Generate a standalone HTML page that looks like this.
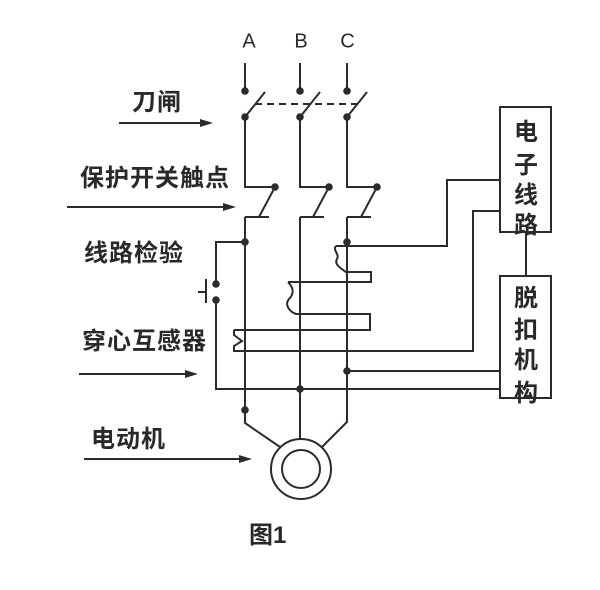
<!DOCTYPE html>
<html><head><meta charset="utf-8"><style>
html,body{margin:0;padding:0;background:#fff;}
svg{display:block;}
.t{font-family:"Liberation Sans","Noto Sans CJK SC",sans-serif;font-weight:bold;font-size:24px;fill:#2b2828;letter-spacing:1px;}
.l{font-family:"Liberation Sans",sans-serif;font-size:20px;fill:#2b2828;}
</style></head><body>
<svg width="600" height="590" viewBox="0 0 600 590" xmlns="http://www.w3.org/2000/svg">
<g fill="none" stroke="#2d2a2a" stroke-width="2">
<!-- A phase -->
<path d="M245,63 V91"/>
<path d="M245,117 L265,92"/>
<path d="M245,117 V187 H275"/>
<path d="M275,187 L259,217"/>
<path d="M245,217 H269"/>
<path d="M245,217 V423 L280,447"/>
<!-- B phase -->
<path d="M300,63 V91"/>
<path d="M300,117 L320,92"/>
<path d="M300,117 V187 H329"/>
<path d="M329,187 L313,217"/>
<path d="M300,217 H324"/>
<path d="M300,217 V439"/>
<!-- C phase -->
<path d="M347,63 V91"/>
<path d="M347,117 L367,92"/>
<path d="M347,117 V187 H377"/>
<path d="M377,187 L361,217"/>
<path d="M347,217 H371"/>
<path d="M347,217 V422 L322,447"/>
<!-- dashed linkage -->
<path d="M255,104 H362" stroke-dasharray="7,5"/>
<!-- motor -->
<circle cx="301" cy="469" r="30"/>
<circle cx="301" cy="469" r="19"/>
<!-- boxes -->
<rect x="500" y="107" width="51" height="125"/>
<rect x="500" y="276" width="51" height="122"/>
<path d="M526,232 V276"/>
<!-- electronic circuit feed lines -->
<path d="M500,180 H447 V246 H336"/>
<path d="M336,246 C332,250 340,254 337,259 C334,264 340,268 346,272 H371 V282 H288"/>
<path d="M288,282 C294,288 294,294 289,299 C284,305 290,312 296,314 H370 V330 H234"/>
<path d="M234,330 V335 L242,341 L234,346 V351 H473 V211 H500"/>
<path d="M347,371 H500"/>
<path d="M500,389 H216 V300"/>
<path d="M216,284 V242 H245"/>
<!-- test button -->
<path d="M206,279 V303 M198,292 H206"/>
<!-- arrows -->
<path d="M119,123 H204"/>
<path d="M67,207 H227"/>
<path d="M79,374 H189"/>
<path d="M84,459 H243"/>
</g>
<g fill="#2d2a2a">
<circle cx="245" cy="91" r="3.8"/><circle cx="245" cy="117" r="3.8"/>
<circle cx="300" cy="91" r="3.8"/><circle cx="300" cy="117" r="3.8"/>
<circle cx="347" cy="91" r="3.8"/><circle cx="347" cy="117" r="3.8"/>
<circle cx="275" cy="187" r="3.8"/><circle cx="329" cy="187" r="3.8"/><circle cx="377" cy="187" r="3.8"/>
<circle cx="245" cy="242" r="3.8"/><circle cx="347" cy="242" r="3.8"/>
<circle cx="216" cy="284" r="3.8"/><circle cx="216" cy="300" r="3.8"/>
<circle cx="347" cy="371" r="3.8"/><circle cx="300" cy="389" r="3.8"/>
<circle cx="245" cy="410" r="3.8"/>
<path d="M213,123 L200,119 L200,127 Z"/>
<path d="M236,207 L223,203 L223,211 Z"/>
<path d="M198,374 L185,370 L185,378 Z"/>
<path d="M252,459 L239,455 L239,463 Z"/>
</g>
<text class="l" x="249" y="47.5" text-anchor="middle">A</text>
<text class="l" x="301" y="47.5" text-anchor="middle">B</text>
<text class="l" x="347.5" y="47.5" text-anchor="middle">C</text>
<text class="t" x="132" y="110">刀闸</text>
<text class="t" x="80" y="186">保护开关触点</text>
<text class="t" x="84" y="261">线路检验</text>
<text class="t" x="82" y="349">穿心互感器</text>
<text class="t" x="91" y="447">电动机</text>
<text class="t" x="249" y="543" style="letter-spacing:0">图1</text>
<g class="t" text-anchor="middle" style="letter-spacing:0">
<text x="526" y="140">电</text>
<text x="526" y="173">子</text>
<text x="526" y="203">线</text>
<text x="526" y="233">路</text>
<text x="526" y="306">脱</text>
<text x="526" y="338">扣</text>
<text x="526" y="368">机</text>
<text x="526" y="401">构</text>
</g>
</svg>
</body></html>
